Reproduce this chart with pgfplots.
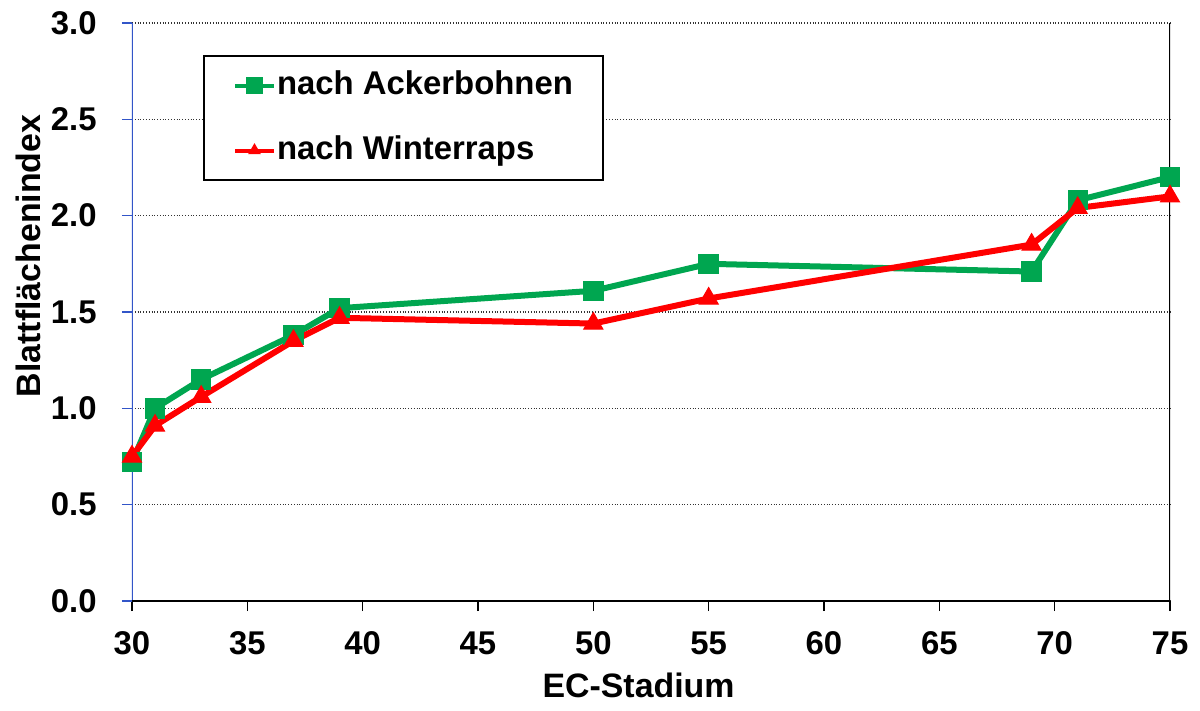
\documentclass[border=0pt]{standalone}
\usepackage{fontspec}
\setmainfont{Liberation Sans}
\usepackage{pgfplots}
\pgfplotsset{compat=1.18}
\definecolor{cgreen}{RGB}{0,166,80}
\definecolor{cred}{RGB}{255,0,0}
\definecolor{cblue}{RGB}{50,85,200}
\begin{document}
\begin{tikzpicture}
\begin{axis}[
  scale only axis, width=519bp, height=289bp,
  xmin=30, xmax=75, ymin=0, ymax=3,
  xtick={30,35,...,75}, ytick={0,0.5,...,3},
  /pgf/number format/assume math mode=true,
  yticklabel style={/pgf/number format/.cd,fixed,fixed zerofill,precision=1,/tikz/.cd,
    anchor=east, inner sep=0pt, xshift=-12.5bp},
  xticklabel style={/pgf/number format/.cd,fixed,precision=0,/tikz/.cd,
    anchor=north, inner sep=0pt, yshift=-10bp},
  font=\fontsize{16.5}{19}\selectfont\bfseries,
  label style={font=\fontsize{17}{20}\selectfont\bfseries},
  axis line style={draw=none},
  tick align=outside, major tick length=5bp,
  xtick pos=bottom, ytick pos=left,
  x tick style={black, line width=0.8bp},
  y tick style={cblue, line width=0.8bp},
  ymajorgrids, grid style={black!80, densely dotted, line width=0.6bp},
  xlabel={EC-Stadium}, ylabel={Blattflächenindex},
  xlabel style={at={(axis description cs:0.488,0)}, anchor=center, yshift=-42bp},
  ylabel style={at={(axis description cs:-0.1002,0.597)}, anchor=center},
  legend cell align=left,
  legend style={at={(rel axis cs:0.0684,0.9446)}, anchor=north west,
    draw=black, line width=1bp, inner xsep=14.5bp, inner ysep=7bp,
    row sep=17bp,
    nodes={inner xsep=0.5bp, inner ysep=0pt, text height=12bp, text depth=3.5bp},
    font=\fontsize{16.5}{19}\selectfont\bfseries},
  legend image code/.code={\draw[mark repeat=2,mark phase=2,#1,line width=2bp,mark size=3.2bp] plot coordinates {(0bp,0bp) (9.75bp,0bp) (19.5bp,0bp)};},
]
\draw[cblue, line width=0.8bp] (rel axis cs:0,0) -- (rel axis cs:0,1);
\draw[black, line width=0.8bp] (rel axis cs:0,0) -- (rel axis cs:1,0) -- (rel axis cs:1,1);
\addplot[cgreen, line width=3bp, mark=square*, mark size=3.6bp, mark options={solid}] coordinates {
(30,0.72) (31,1.00) (33,1.15) (37,1.38) (39,1.52) (50,1.61) (55,1.75) (69,1.71) (71,2.08) (75,2.20)};
\addlegendentry{nach Ackerbohnen}
\addplot[cred, line width=3bp, mark=triangle*, mark size=5.5bp, mark options={solid, line width=0.5bp}] coordinates {
(30,0.75) (31,0.91) (33,1.06) (37,1.35) (39,1.47) (50,1.44) (55,1.57) (69,1.85) (71,2.04) (75,2.10)};
\addlegendentry{nach Winterraps}
\end{axis}
\pgfresetboundingbox
\useasboundingbox (-66bp,-55bp) rectangle (534bp,300.5bp);
\end{tikzpicture}
\end{document}
